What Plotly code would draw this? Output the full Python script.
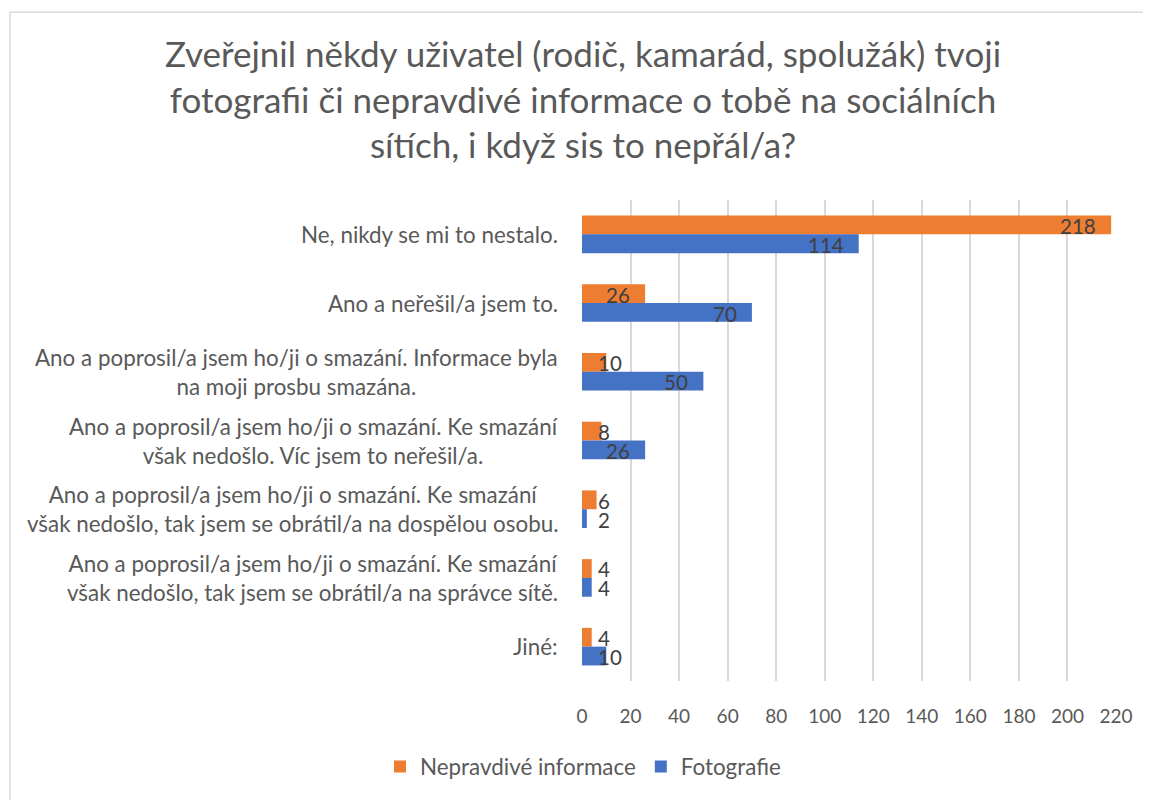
import plotly.graph_objects as go

categories = [
    "Ne, nikdy se mi to nestalo.",
    "Ano a neřešil/a jsem to.",
    "Ano a poprosil/a jsem ho/ji o smazání. Informace byla<br>na moji prosbu smazána.",
    "Ano a poprosil/a jsem ho/ji o smazání. Ke smazání<br>však nedošlo. Víc jsem to neřešil/a.",
    "Ano a poprosil/a jsem ho/ji o smazání. Ke smazání<br>však nedošlo, tak jsem se obrátil/a na dospělou osobu.",
    "Ano a poprosil/a jsem ho/ji o smazání. Ke smazání<br>však nedošlo, tak jsem se obrátil/a na správce sítě.",
    "Jiné:",
]
nepravdive = [218, 26, 10, 8, 6, 4, 4]
fotografie = [114, 70, 50, 26, 2, 4, 10]
tick_vals = list(range(0, 221, 20))

title_text = ("Zveřejnil někdy uživatel (rodič, kamarád, spolužák) tvoji<br>"
              "fotografii či nepravdivé informace o tobě na sociálních<br>"
              "sítích, i když sis to nepřál/a?")

FONT = "Lato"
ORANGE = "#ED7D31"
BLUE = "#4472C4"

# page body has an 8px margin; figure sized to fit the 1151x800 window
W, H = 1143, 792
ML, MR, MT, MB = 574, 35, 192, 113
PW, PH = W - ML - MR, H - MT - MB

fig = go.Figure()
fig.add_trace(go.Bar(y=categories, x=nepravdive, orientation="h", name="Nepravdivé informace",
                     marker=dict(color=ORANGE, line=dict(width=0)), hoverinfo="x+name"))
fig.add_trace(go.Bar(y=categories, x=fotografie, orientation="h", name="Fotografie",
                     marker=dict(color=BLUE, line=dict(width=0)), hoverinfo="x+name"))

annotations = []
# category labels (centered multi-line, like the original)
for c in categories:
    annotations.append(dict(x=0, xref="paper", y=c, yref="y", text=c, showarrow=False,
                            xanchor="right", yanchor="middle", align="center", xshift=-22,
                            font=dict(family=FONT, size=22.4, color="#595959")))
# data labels
bar_half = PH / len(categories) * (1 - 0.453) / 4
for series, ysh in ((nepravdive, bar_half), (fotografie, -bar_half)):
    for c, v in zip(categories, series):
        if v >= 20:
            a = dict(x=v, xanchor="right", xshift=-13)
        else:
            a = dict(x=0, xanchor="left", xshift=14)
        a.update(xref="x", y=c, yref="y", yshift=ysh - 1, yanchor="middle", text=str(v),
                 showarrow=False, font=dict(family=FONT, size=20.5, color="#404040"))
        annotations.append(a)

fig.update_layout(
    width=W, height=H,
    margin=dict(l=ML, r=MR, t=MT, b=MB, pad=0),
    paper_bgcolor="white", plot_bgcolor="white",
    barmode="group", bargap=0.453, bargroupgap=0,
    title=dict(text=title_text, x=575 / W, xanchor="center", xref="container",
               y=1 - 59 / H, yanchor="top", yref="container",
               font=dict(family=FONT, size=35, color="#595959")),
    xaxis=dict(range=[0, 220], tickvals=tick_vals, ticktext=[str(t) for t in tick_vals],
               showgrid=True, gridcolor="#d9d9d9", gridwidth=2, zeroline=False,
               showline=False, ticks="outside", ticklen=18, tickcolor="rgba(0,0,0,0)",
               tickfont=dict(family=FONT, size=19, color="#595959"), fixedrange=True),
    yaxis=dict(autorange="reversed", showticklabels=False, showgrid=False, zeroline=False,
               showline=False, ticks="", fixedrange=True),
    legend=dict(orientation="h", x=(575 - ML) / PW, xanchor="center",
                y=(H - MB - 766) / PH, yanchor="middle",
                font=dict(family=FONT, size=22.4, color="#595959"), traceorder="normal"),
    annotations=annotations,
    shapes=[dict(type="rect", xref="paper", yref="paper",
                 x0=(2 - ML) / PW, x1=(W + 20 - ML) / PW,
                 y0=(H - MB - (H + 20)) / PH, y1=(H - MB - 2) / PH,
                 line=dict(color="#d9d9d9", width=1.5), layer="below")],
    showlegend=True,
)

fig.write_html("out.html")
